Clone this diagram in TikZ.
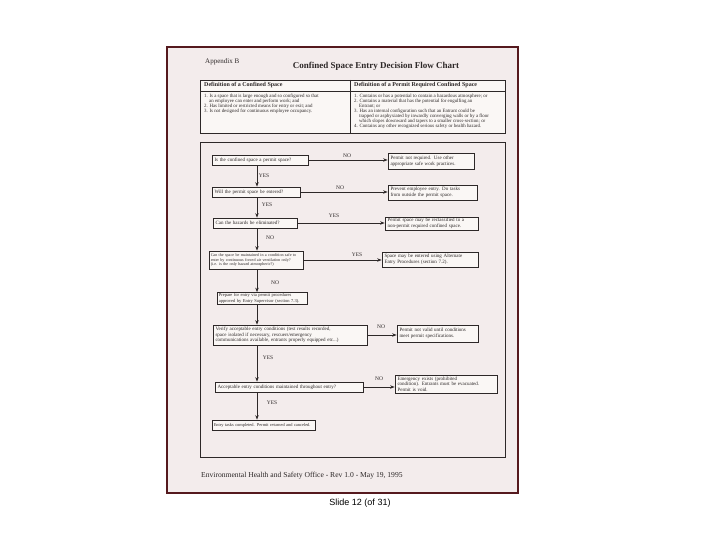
\documentclass[tikz,border=0pt]{standalone}
\usepackage{fontspec}
\setmainfont{Liberation Serif}
\newfontfamily\slidefont{Liberation Sans}
\usetikzlibrary{arrows.meta}
\definecolor{pagefill}{RGB}{243,236,236}
\definecolor{pageedge}{RGB}{85,25,30}
\definecolor{ink}{RGB}{45,40,40}
\definecolor{boxfill}{RGB}{250,247,245}
\begin{document}
\begin{tikzpicture}[x=1pt,y=-1pt,
  flowbox/.style={draw=ink, line width=0.7pt, fill=boxfill, inner xsep=2.5pt, inner ysep=1.3pt,
    align=left, font=\fontsize{5}{5.6}\selectfont, text=ink},
  lbl/.style={font=\fontsize{5.5}{6}\selectfont, text=ink, inner sep=0pt},
  flowarrow/.style={draw=ink, line width=0.8pt, -{Stealth[length=4.5pt,width=3.5pt]}},
  tabtext/.style={font=\fontsize{4.9}{5.1}\selectfont, text=ink, inner sep=0pt, align=left, anchor=north west},
  tabhead/.style={font=\bfseries\fontsize{6}{7}\selectfont, text=ink, inner sep=0pt, anchor=west},
]
\useasboundingbox (0,0) rectangle (720,540);
\fill[white] (0,0) rectangle (720,540);
% page
\draw[pageedge, line width=1.3pt, fill=pagefill] (167,47) rectangle (518,493);
% heading
\node[font=\fontsize{7}{8}\selectfont, text=ink, anchor=west, inner sep=0pt] (app) at (205,62) {Appendix B};
\node[font=\bfseries\fontsize{9}{10}\selectfont, text=ink, inner sep=0pt] (title) at (376,66) {Confined Space Entry Decision Flow Chart};
% definition table
\draw[ink, line width=0.7pt, fill=boxfill] (200,80) rectangle (505,133);
\draw[ink, line width=0.7pt] (200,91) -- (505,91);
\draw[ink, line width=0.7pt] (350,80) -- (350,133);
\node[tabhead] (h1) at (204,85.5) {Definition of a Confined Space};
\node[tabhead] (h2) at (354,85.5) {Definition of a Permit Required Confined Space};
\node[tabtext] (c1) at (204,93.5) {1. Is a space that is large enough and so configured so that\\
\hspace*{5pt}an employee can enter and perform work; and\\
2. Has limited or restricted means for entry or exit; and\\
3. Is not designed for continuous employee occupancy.};
\node[tabtext] (c2) at (354,93.5) {1. Contains or has a potential to contain a hazardous atmosphere; or\\
2. Contains a material that has the potential for engulfing an\\
\hspace*{5pt}Entrant; or\\
3. Has an internal configuration such that an Entrant could be\\
\hspace*{5pt}trapped or asphyxiated by inwardly converging walls or by a floor\\
\hspace*{5pt}which slopes downward and tapers to a smaller cross-section; or\\
4. Contains any other recognized serious safety or health hazard.};
% flow frame
\draw[ink, line width=1pt] (200,143) rectangle (505,457);
\coordinate (trunk) at (257,0);
% main column
\node[flowbox, text width=91pt, minimum height=10pt] (b1) at (260,160) {Is the confined space a permit space?};
\node[flowbox, text width=83pt, minimum height=10pt] (b2) at (256,192) {Will the permit space be entered?};
\node[flowbox, text width=79pt, minimum height=10pt] (b3) at (255,223) {Can the hazards be eliminated?};
\node[flowbox, inner xsep=1.8pt, text width=90.5pt, minimum height=18pt, font=\fontsize{4.1}{4.9}\selectfont] (b4) at (256,260) {Can the space be maintained in a condition safe to\\ enter by continuous forced air ventilation only?\\ (i.e. is the only hazard atmospheric?)};
\node[flowbox, inner xsep=1.8pt, text width=86.5pt, minimum height=12pt, font=\fontsize{4.5}{5.2}\selectfont] (b5) at (262,298.5) {Prepare for entry via permit procedures\\ approved by Entry Supervisor (section 7.3).};
\node[flowbox, text width=149pt, minimum height=20pt] (b6) at (290,335) {Verify acceptable entry conditions (test results recorded,\\ space isolated if necessary, rescuers/emergency\\ communications available, entrants properly equipped etc...)};
\node[flowbox, text width=143pt, minimum height=10pt] (b7) at (289,387) {Acceptable entry conditions maintained throughout entry?};
\node[flowbox, inner xsep=1.8pt, text width=99.5pt, minimum height=10pt, font=\fontsize{4.4}{5}\selectfont] (b8) at (263.5,425) {Entry tasks completed. Permit returned and canceled.};
% right column
\node[flowbox, text width=81pt, minimum height=16pt] (r1) at (431,161) {Permit not required. Use other\\ appropriate safe work practices.};
\node[flowbox, text width=84pt, minimum height=15pt] (r2) at (432.5,192.5) {Prevent employee entry. Do tasks\\ from outside the permit space.};
\node[flowbox, text width=88pt, minimum height=13pt] (r3) at (431.5,223.5) {Permit space may be reclassified to a\\ non-permit required confined space.};
\node[flowbox, text width=91pt, minimum height=15pt] (r4) at (430,259.5) {Space may be entered using Alternate\\ Entry Procedures (section 7.2).};
\node[flowbox, text width=76pt, minimum height=17pt] (r6) at (437.5,333.5) {Permit not valid until conditions\\ meet permit specifications.};
\node[flowbox, text width=97pt, minimum height=18pt] (r7) at (446,384) {Emergency exists (prohibited\\ condition). Entrants must be evacuated.\\ Permit is void.};
% vertical connectors
\draw[flowarrow] (b1.south -| trunk) -- (b2.north -| trunk);
\draw[flowarrow] (b2.south -| trunk) -- (b3.north -| trunk);
\draw[flowarrow] (b3.south -| trunk) -- (b4.north -| trunk);
\draw[flowarrow] (b4.south -| trunk) -- (b5.north -| trunk);
\draw[flowarrow] (b5.south -| trunk) -- (b6.north -| trunk);
\draw[flowarrow] (b6.south -| trunk) -- (b7.north -| trunk);
\draw[flowarrow] (b7.south -| trunk) -- (b8.north -| trunk);
% horizontal connectors
\draw[flowarrow] (b1.east) -- (b1.east -| r1.west);
\draw[flowarrow] (b2.east) -- (b2.east -| r2.west);
\draw[flowarrow] (b3.east) -- (b3.east -| r3.west);
\draw[flowarrow] (b4.east) -- (b4.east -| r4.west);
\draw[flowarrow] (b6.east) -- (b6.east -| r6.west);
\draw[flowarrow] (b7.east) -- (b7.east -| r7.west);
% labels
\node[lbl] (n1) at (347,155.5) {NO};
\node[lbl] (n2) at (340,188) {NO};
\node[lbl] (y3) at (334,216) {YES};
\node[lbl] (y4) at (357,254.5) {YES};
\node[lbl] (n6) at (381,327) {NO};
\node[lbl] (n7) at (379,379) {NO};
\node[lbl] (v1) at (264,176) {YES};
\node[lbl] (v2) at (267,205) {YES};
\node[lbl] (v3) at (270,238) {NO};
\node[lbl] (v4) at (275,283) {NO};
\node[lbl] (v6) at (268,358) {YES};
\node[lbl] (v7) at (272,403) {YES};
% footer
\node[font=\fontsize{7.6}{8}\selectfont, text=ink, anchor=west, inner sep=0pt] (foot) at (201,476) {Environmental Health and Safety Office - Rev 1.0 - May 19, 1995};
\node[font=\slidefont\fontsize{9}{10}\selectfont, inner sep=0pt] (slide) at (360,503) {Slide 12 (of 31)};
\end{tikzpicture}
\end{document}
